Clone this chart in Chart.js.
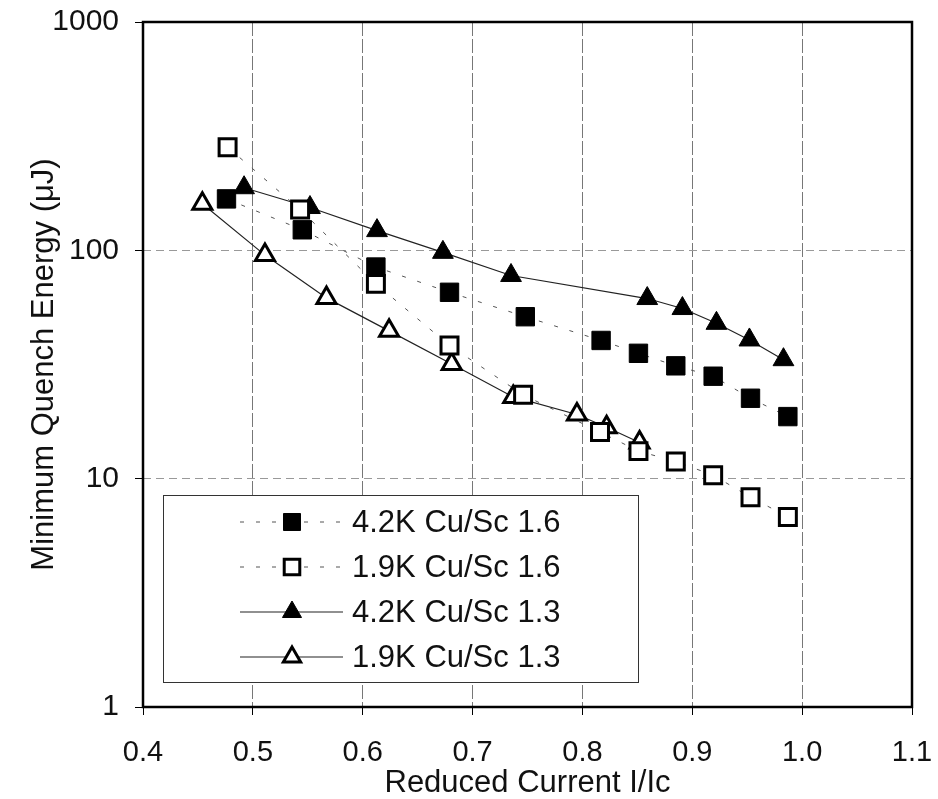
<!DOCTYPE html>
<html>
<head>
<meta charset="utf-8">
<script src="https://cdn.jsdelivr.net/npm/chart.js@4.4.1/dist/chart.umd.min.js"></script>
<style>
  html, body { margin: 0; padding: 0; background: #fff; }
  #wrap { width: 938px; height: 799px; }
</style>
</head>
<body>
<div id="wrap"><canvas id="mqeChart"></canvas></div>
<script>
// Minimum quench energy vs reduced current
const currentSq42 = [0.476, 0.545, 0.612, 0.679, 0.748, 0.817, 0.851, 0.885, 0.919, 0.953, 0.987];
const energySq42 = [168, 123, 84.5, 65.5, 51.2, 40.3, 35.4, 31.2, 28.1, 22.5, 18.7];

const currentSq19 = [0.477, 0.543, 0.612, 0.679, 0.746, 0.816, 0.851, 0.885, 0.919, 0.953, 0.987];
const energySq19 = [283, 151, 71.3, 38.3, 23.3, 16.0, 13.2, 11.9, 10.35, 8.3, 6.8];

const currentTri42 = [0.492, 0.552, 0.613, 0.673, 0.735, 0.859, 0.891, 0.922, 0.952, 0.983];
const energyTri42 = [188, 154, 122, 98, 77.6, 61.5, 55.6, 47.9, 40.5, 33.2];

const currentTri19 = [0.454, 0.511, 0.567, 0.624, 0.681, 0.737, 0.795, 0.822, 0.852];
const energyTri19 = [160, 95.3, 61.9, 44.4, 31.8, 22.8, 19.1, 16.8, 14.4];

const seriesLabels = ['4.2K Cu/Sc 1.6', '1.9K Cu/Sc 1.6', '4.2K Cu/Sc 1.3', '1.9K Cu/Sc 1.3'];
const xTicks = [0.4, 0.5, 0.6, 0.7, 0.8, 0.9, 1.0, 1.1];
const yTicks = [1, 10, 100, 1000];

const FONT = '"Liberation Sans", Arial, Helvetica, sans-serif';

function toPoints(xs, ys) {
    return xs.map((x, i) => ({ x: x, y: ys[i] }));
}

// no extra padding from the tick labels, the layout padding places the plot
function noScalePadding(scale) {
    scale.paddingTop = 0;
    scale.paddingBottom = 0;
    scale.paddingLeft = 0;
    scale.paddingRight = 0;
}

const datasets = [
    {
        label: seriesLabels[0],
        data: toPoints(currentSq42, energySq42),
        showLine: true,
        borderColor: '#555',
        borderWidth: 1,
        borderDash: [4, 12],
        pointStyle: 'rect',
        pointRadius: 13,
        pointBackgroundColor: '#000',
        pointBorderColor: '#000',
        pointBorderWidth: 1
    },
    {
        label: seriesLabels[1],
        data: toPoints(currentSq19, energySq19),
        showLine: true,
        borderColor: '#555',
        borderWidth: 1,
        borderDash: [4, 12],
        pointStyle: 'rect',
        pointRadius: 12,
        pointBackgroundColor: '#fff',
        pointBorderColor: '#000',
        pointBorderWidth: 3
    },
    {
        label: seriesLabels[2],
        data: toPoints(currentTri42, energyTri42),
        showLine: true,
        borderColor: '#222',
        borderWidth: 1.2,
        pointStyle: 'triangle',
        pointRadius: 12,
        pointBackgroundColor: '#000',
        pointBorderColor: '#000',
        pointBorderWidth: 1
    },
    {
        label: seriesLabels[3],
        data: toPoints(currentTri19, energyTri19),
        showLine: true,
        borderColor: '#222',
        borderWidth: 1.2,
        pointStyle: 'triangle',
        pointRadius: 11,
        pointBackgroundColor: '#fff',
        pointBorderColor: '#000',
        pointBorderWidth: 3
    }
];

// Legend box drawn inside the plot, lower left
const boxLegend = {
    id: 'boxLegend',
    afterDatasetsDraw(chart) {
        const ctx = chart.ctx;
        const x0 = 163, y0 = 495, w = 475, h = 187;
        ctx.save();
        ctx.fillStyle = '#fff';
        ctx.fillRect(x0, y0, w, h);
        ctx.strokeStyle = '#333';
        ctx.lineWidth = 1;
        ctx.strokeRect(x0 + 0.5, y0 + 0.5, w, h);

        chart.data.datasets.forEach((ds, i) => {
            const cy = 522 + i * 45;
            ctx.beginPath();
            ctx.strokeStyle = ds.borderColor;
            ctx.lineWidth = ds.borderWidth;
            ctx.setLineDash(ds.borderDash || []);
            ctx.moveTo(240, cy);
            ctx.lineTo(343, cy);
            ctx.stroke();
            ctx.setLineDash([]);

            ctx.fillStyle = ds.pointBackgroundColor;
            ctx.strokeStyle = ds.pointBorderColor;
            ctx.lineWidth = ds.pointBorderWidth;
            Chart.helpers.drawPoint(ctx, {
                pointStyle: ds.pointStyle,
                radius: ds.pointRadius - 1,
                rotation: 0,
                borderWidth: ds.pointBorderWidth
            }, 292, cy);

            ctx.fillStyle = '#111';
            ctx.font = '31px ' + FONT;
            ctx.textBaseline = 'middle';
            ctx.textAlign = 'left';
            ctx.fillText(ds.label, 352, cy + 1);
        });
        ctx.restore();
    }
};

// Heavy frame round the plot area
const plotFrame = {
    id: 'plotFrame',
    afterDraw(chart) {
        const a = chart.chartArea;
        const ctx = chart.ctx;
        ctx.save();
        ctx.strokeStyle = '#000';
        ctx.lineWidth = 2.5;
        ctx.strokeRect(a.left, a.top, a.right - a.left, a.bottom - a.top);
        ctx.restore();
    }
};

new Chart(document.getElementById('mqeChart'), {
    type: 'scatter',
    data: { datasets: datasets },
    plugins: [boxLegend, plotFrame],
    options: {
        responsive: true,
        maintainAspectRatio: false,
        animation: false,
        layout: { padding: { top: 22, right: 26, left: 0, bottom: 0 } },
        plugins: {
            legend: { display: false },
            tooltip: { enabled: false }
        },
        scales: {
            x: {
                type: 'linear',
                min: 0.4,
                max: 1.1,
                afterBuildTicks: (scale) => {
                    scale.ticks = xTicks.map(v => ({ value: v }));
                },
                afterFit: (scale) => {
                    scale.height = 92;
                    noScalePadding(scale);
                },
                ticks: {
                    color: '#111',
                    font: { family: FONT, size: 29 },
                    padding: 21,
                    maxRotation: 0,
                    callback: (v) => Number(v).toFixed(1)
                },
                grid: {
                    color: '#777',
                    lineWidth: 1,
                    tickColor: '#000',
                    tickLength: 8
                },
                border: { display: false, dash: [14, 3] },
                title: {
                    display: true,
                    text: 'Reduced Current I/Ic',
                    color: '#111',
                    font: { family: FONT, size: 31, lineHeight: 1 },
                    padding: { top: 0, bottom: 0 }
                }
            },
            y: {
                type: 'logarithmic',
                min: 1,
                max: 1000,
                afterBuildTicks: (scale) => {
                    scale.ticks = yTicks.map(v => ({ value: v }));
                },
                afterFit: (scale) => {
                    scale.width = 143;
                    noScalePadding(scale);
                },
                ticks: {
                    color: '#111',
                    font: { family: FONT, size: 30 },
                    padding: 16,
                    callback: (v) => String(v)
                },
                grid: {
                    color: '#999',
                    lineWidth: 1,
                    tickColor: '#000',
                    tickLength: 8
                },
                border: { display: false, dash: [8, 5] },
                title: {
                    display: true,
                    text: 'Minimum Quench Energy (μJ)',
                    color: '#111',
                    font: { family: FONT, size: 31, lineHeight: 1 },
                    padding: { top: 29, bottom: 0 }
                }
            }
        }
    }
});
</script>
</body>
</html>
